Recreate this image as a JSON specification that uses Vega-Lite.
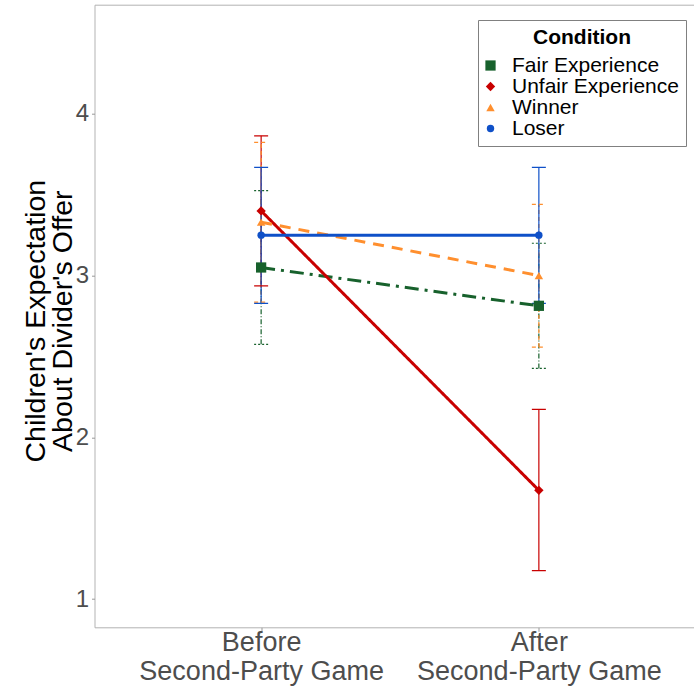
{
  "$schema": "https://vega.github.io/schema/vega-lite/v6.json",
  "width": 611,
  "height": 622.6,
  "autosize": {"type": "none"},
  "padding": {"left": 94.5, "top": 4.7, "right": -11.5, "bottom": 64.7},
  "background": "white",
  "data": {
    "values": [
      {"condition": "Fair Experience", "time": "Before", "mean": 3.05, "lower": 2.575, "upper": 3.525},
      {"condition": "Fair Experience", "time": "After", "mean": 2.813, "lower": 2.426, "upper": 3.2},
      {"condition": "Unfair Experience", "time": "Before", "mean": 3.4, "lower": 2.936, "upper": 3.864},
      {"condition": "Unfair Experience", "time": "After", "mean": 1.672, "lower": 1.175, "upper": 2.172},
      {"condition": "Winner", "time": "Before", "mean": 3.33, "lower": 2.836, "upper": 3.824},
      {"condition": "Winner", "time": "After", "mean": 3.0, "lower": 2.558, "upper": 3.44},
      {"condition": "Loser", "time": "Before", "mean": 3.25, "lower": 2.828, "upper": 3.669},
      {"condition": "Loser", "time": "After", "mean": 3.25, "lower": 2.828, "upper": 3.669}
    ]
  },
  "encoding": {
    "x": {"field": "time", "type": "nominal", "sort": ["Before", "After"], "scale": {"type": "point", "padding": 0.6},
      "axis": {"orient": "bottom", "title": null, "labelExpr": "[datum.label, 'Second-Party Game']", "labelFontSize": 27, "labelLineHeight": 29, "labelLimit": 400, "labelColor": "#4d4d4d", "tickSize": 4, "labelPadding": -2, "labelAngle": 0, "domain": false, "tickColor": "#999999", "grid": false}},
    "color": {
      "field": "condition", "type": "nominal",
      "scale": {"domain": ["Fair Experience", "Unfair Experience", "Winner", "Loser"], "range": ["#17612c", "#c80000", "#ff8f2e", "#0f50c8"]},
      "legend": {"orient": "none", "legendX": 383.5, "legendY": 15.3, "title": "Condition", "titleFontSize": 21, "titleFontWeight": "bold", "titleAnchor": "middle", "titleColor": "black", "labelFontSize": 21, "labelColor": "black", "labelLimit": 300, "strokeColor": "#808080", "fillColor": "white", "padding": 7, "symbolSize": 80, "symbolStrokeWidth": 0, "symbolOffset": -5, "labelOffset": 11, "rowPadding": -5, "titlePadding": 7}
    }
  },
  "layer": [
    {
      "mark": {"type": "rule", "strokeWidth": 1.2},
      "encoding": {
        "y": {"field": "lower", "type": "quantitative", "scale": {"domain": [0.825, 4.675], "nice": false, "zero": false}, "title": ["Children's Expectation", "About Divider's Offer"],
          "axis": {"values": [1, 2, 3, 4], "format": "d", "grid": false, "labelFontSize": 24, "labelColor": "#4d4d4d", "tickSize": 3, "labelPadding": 3, "tickColor": "#999999", "domain": false, "titleFontSize": 28.5, "titleFontWeight": "normal", "titleColor": "black", "titleLineHeight": 27, "titleAngle": -90, "titleX": -59.5, "titleY": 316, "titleBaseline": "middle", "titleAlign": "center"}},
        "y2": {"field": "upper"},
        "strokeDash": {"field": "condition", "type": "nominal", "scale": {"domain": ["Fair Experience", "Unfair Experience", "Winner", "Loser"], "range": [[5, 2, 1, 2], [1, 0], [4, 3], [1, 0]]}, "legend": null}
      }
    },
    {
      "mark": {"type": "rule", "strokeWidth": 1.2, "xOffset": -7, "x2Offset": 7},
      "encoding": {
        "x2": {"field": "time"},
        "y": {"field": "upper", "type": "quantitative"},
        "strokeDash": {"field": "condition", "type": "nominal", "scale": {"domain": ["Fair Experience", "Unfair Experience", "Winner", "Loser"], "range": [[2, 2], [1, 0], [4, 3], [1, 0]]}, "legend": null}
      }
    },
    {
      "mark": {"type": "rule", "strokeWidth": 1.2, "xOffset": -7, "x2Offset": 7},
      "encoding": {
        "x2": {"field": "time"},
        "y": {"field": "lower", "type": "quantitative"},
        "strokeDash": {"field": "condition", "type": "nominal", "scale": {"domain": ["Fair Experience", "Unfair Experience", "Winner", "Loser"], "range": [[2, 2], [1, 0], [4, 3], [1, 0]]}, "legend": null}
      }
    },
    {
      "mark": {"type": "line", "strokeWidth": 3},
      "encoding": {
        "y": {"field": "mean", "type": "quantitative"},
        "detail": {"field": "condition"},
        "strokeDash": {"field": "condition", "type": "nominal", "scale": {"domain": ["Fair Experience", "Unfair Experience", "Winner", "Loser"], "range": [[14, 6, 3, 6], [1, 0], [11, 8], [1, 0]]}, "legend": null}
      }
    },
    {
      "mark": {"type": "point", "filled": true, "opacity": 1},
      "encoding": {
        "y": {"field": "mean", "type": "quantitative"},
        "shape": {"field": "condition", "type": "nominal", "scale": {"domain": ["Fair Experience", "Unfair Experience", "Winner", "Loser"], "range": ["square", "diamond", "triangle-up", "circle"]},
          "legend": {"orient": "none", "legendX": 383.5, "legendY": 15.3, "title": "Condition", "titleFontSize": 21, "titleFontWeight": "bold", "titleAnchor": "middle", "titleColor": "black", "labelFontSize": 21, "labelColor": "black", "labelLimit": 300, "strokeColor": "#808080", "fillColor": "white", "padding": 7, "symbolSize": 80, "symbolStrokeWidth": 0, "symbolOffset": -5, "labelOffset": 11, "rowPadding": -5, "titlePadding": 7}},
        "size": {"field": "condition", "type": "nominal", "scale": {"domain": ["Fair Experience", "Unfair Experience", "Winner", "Loser"], "range": [105, 55, 140, 100]}, "legend": null}
      }
    }
  ],
  "resolve": {"scale": {"strokeDash": "independent"}},
  "config": {
    "font": "Liberation Sans",
    "view": {"stroke": "#b3b3b3", "strokeWidth": 1}
  }
}
